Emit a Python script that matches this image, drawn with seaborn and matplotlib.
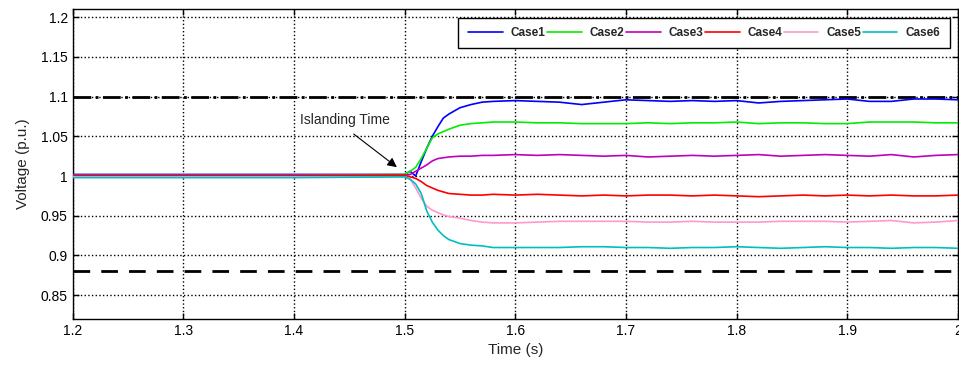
import matplotlib
matplotlib.use("Agg")
import matplotlib.pyplot as plt
import seaborn as sns
import pandas as pd

# time base (s)
time = [1.20, 1.30, 1.40, 1.50, 1.505, 1.51, 1.515, 1.52, 1.525, 1.53, 1.535, 1.54,
        1.55, 1.56, 1.57, 1.58, 1.60, 1.62, 1.64, 1.66, 1.68, 1.70, 1.72, 1.74, 1.76,
        1.78, 1.80, 1.82, 1.84, 1.86, 1.88, 1.90, 1.92, 1.94, 1.96, 1.98, 2.00]

case1 = [1.002, 1.002, 1.002, 1.002, 1.006, 1.000, 1.018, 1.035, 1.050, 1.062, 1.073, 1.078,
         1.086, 1.090, 1.093, 1.094, 1.095, 1.094, 1.093, 1.090, 1.093, 1.096, 1.095, 1.094, 1.095,
         1.094, 1.095, 1.092, 1.094, 1.095, 1.096, 1.097, 1.094, 1.094, 1.097, 1.097, 1.096]
case2 = [1.001, 1.001, 1.001, 1.002, 1.006, 1.011, 1.022, 1.035, 1.048, 1.053, 1.056, 1.059,
         1.064, 1.066, 1.067, 1.068, 1.068, 1.067, 1.067, 1.066, 1.066, 1.066, 1.067, 1.066, 1.067,
         1.067, 1.068, 1.066, 1.067, 1.067, 1.066, 1.066, 1.068, 1.068, 1.068, 1.067, 1.067]
case3 = [1.001, 1.001, 1.001, 1.001, 1.002, 1.006, 1.010, 1.014, 1.019, 1.022, 1.023, 1.024,
         1.025, 1.025, 1.026, 1.026, 1.027, 1.026, 1.027, 1.026, 1.025, 1.026, 1.024, 1.025, 1.026,
         1.025, 1.026, 1.027, 1.025, 1.026, 1.027, 1.026, 1.025, 1.027, 1.024, 1.026, 1.027]
case4 = [1.000, 1.000, 1.000, 1.001, 0.999, 0.997, 0.993, 0.988, 0.985, 0.982, 0.980, 0.978,
         0.977, 0.976, 0.976, 0.977, 0.976, 0.977, 0.976, 0.975, 0.976, 0.975, 0.976, 0.976, 0.975,
         0.976, 0.975, 0.974, 0.975, 0.976, 0.975, 0.976, 0.975, 0.976, 0.975, 0.975, 0.976]
case5 = [0.999, 0.999, 0.999, 0.999, 0.996, 0.985, 0.972, 0.962, 0.957, 0.954, 0.951, 0.949,
         0.947, 0.944, 0.942, 0.941, 0.941, 0.942, 0.943, 0.943, 0.943, 0.943, 0.942, 0.942, 0.943,
         0.942, 0.942, 0.942, 0.943, 0.943, 0.943, 0.942, 0.943, 0.944, 0.941, 0.942, 0.944]
case6 = [0.998, 0.998, 0.998, 0.999, 0.996, 0.990, 0.978, 0.956, 0.942, 0.932, 0.925, 0.920,
         0.915, 0.913, 0.912, 0.910, 0.910, 0.910, 0.910, 0.911, 0.911, 0.910, 0.910, 0.909, 0.910,
         0.910, 0.911, 0.910, 0.909, 0.910, 0.911, 0.910, 0.910, 0.909, 0.910, 0.910, 0.909]

case_names = ["Case1", "Case2", "Case3", "Case4", "Case5", "Case6"]
case_colors = ["#0000ff", "#00ee00", "#c000c0", "#ff0000", "#ff99cc", "#00bfbf"]
upper_limit = 1.10
lower_limit = 0.88

x_ticks = [1.2, 1.3, 1.4, 1.5, 1.6, 1.7, 1.8, 1.9, 2.0]
x_labels = ["1.2", "1.3", "1.4", "1.5", "1.6", "1.7", "1.8", "1.9", "2"]
y_ticks = [0.85, 0.9, 0.95, 1.0, 1.05, 1.1, 1.15, 1.2]
y_labels = ["0.85", "0.9", "0.95", "1", "1.05", "1.1", "1.15", "1.2"]

frames = []
for name, vals in zip(case_names, [case1, case2, case3, case4, case5, case6]):
    frames.append(pd.DataFrame({"Time": time, "Voltage": vals, "Case": name}))
df = pd.concat(frames, ignore_index=True)

sns.set_style("ticks")
plt.rcParams["font.family"] = ["Liberation Sans", "DejaVu Sans"]

fig = plt.figure(figsize=(9.59, 3.67), dpi=100)
ax = fig.add_axes([0.0758, 0.1308, 0.923, 0.844])

ax.axhline(upper_limit, color="black", linestyle="-.", linewidth=2, zorder=1)
ax.axhline(lower_limit, color="black", linestyle=(0, (6, 4)), linewidth=2, zorder=1)

sns.lineplot(data=df, x="Time", y="Voltage", hue="Case", palette=case_colors,
             linewidth=1.2, ax=ax, zorder=3)

ax.set_xlim(1.2, 2.0)
ax.set_ylim(0.82, 1.21)
ax.set_xticks(x_ticks)
ax.set_xticklabels(x_labels, fontsize=10)
ax.set_yticks(y_ticks)
ax.set_yticklabels(y_labels, fontsize=10)
ax.tick_params(direction="in", top=True, right=True, length=4, width=1, colors="black")
ax.grid(True, color="black", linestyle=":", linewidth=1)
for sp in ax.spines.values():
    sp.set_color("black")
    sp.set_linewidth(1)

ax.set_xlabel("Time (s)", fontsize=11)
ax.set_ylabel("Voltage (p.u.)", fontsize=11, labelpad=8)

ax.text(1.405, 1.070, "Islanding Time", fontsize=10, va="center", ha="left")
ax.annotate("", xy=(1.495, 1.009), xytext=(1.452, 1.055),
            arrowprops=dict(arrowstyle="-|>", color="black", lw=0.8, mutation_scale=14))

leg = ax.legend(loc="upper right", ncol=6, frameon=True, fancybox=False,
                prop={"weight": "bold", "size": 8.5}, handlelength=2.96,
                handletextpad=0.68, columnspacing=0.1, borderpad=0.8,
                borderaxespad=0.7, bbox_to_anchor=(1.0, 1.0))
leg.get_frame().set_edgecolor("black")
leg.get_frame().set_linewidth(1)
leg.get_frame().set_alpha(1)

fig.savefig("out.png", dpi=100)
